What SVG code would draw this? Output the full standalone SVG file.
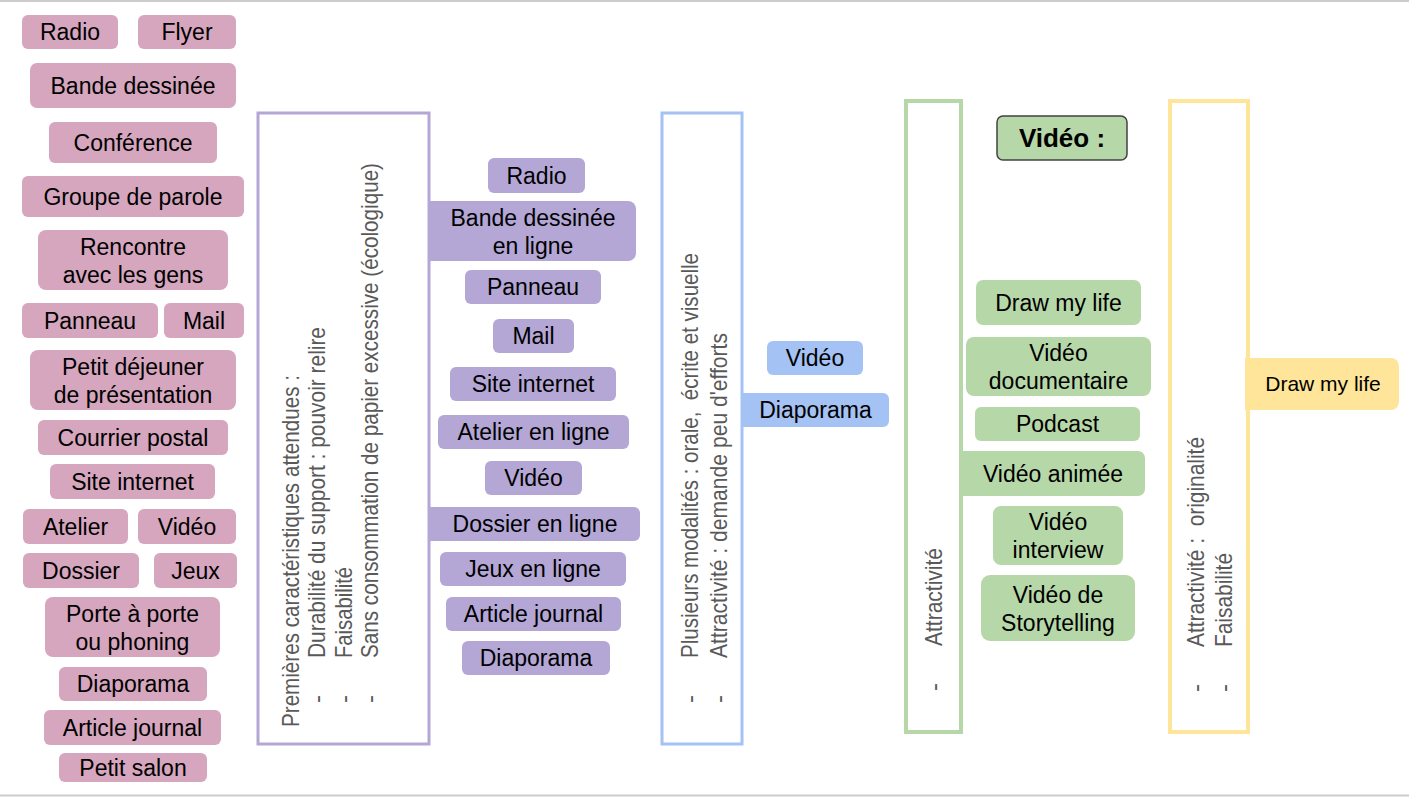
<svg xmlns="http://www.w3.org/2000/svg" width="1409" height="797" viewBox="0 0 1409 797">
<style>
  text { font-family: "Liberation Sans", Arial, sans-serif; }
  .lbl { font-size: 23px; fill: #000; text-anchor: middle; }
  .pink { fill: #d5a6bd; }
  .purple { fill: #b4a7d6; }
  .blue { fill: #a4c2f4; }
  .green { fill: #b6d7a8; }
  .yellow { fill: #ffe599; }
  .vt { font-size: 24px; fill: #595959; }
  .box { fill: #fff; }
</style>
<rect width="1409" height="797" fill="#fff"/>
<line x1="0" y1="1" x2="1409" y2="1" stroke="#cccccc" stroke-width="2"/>
<line x1="0" y1="795.5" x2="1409" y2="795.5" stroke="#cccccc" stroke-width="2"/>

<g id="connectors"></g>

<!-- Frames -->
<g id="frame-purple">
  <rect class="box" x="258" y="113" width="171" height="631" stroke="#b4a7d6" stroke-width="3"/>
  <text class="vt" transform="translate(299,727) rotate(-90)" textLength="352" lengthAdjust="spacingAndGlyphs">Premières caractéristiques attendues :</text>
  <text class="vt" transform="translate(325,703) rotate(-90)">-</text>
  <text class="vt" transform="translate(325,658) rotate(-90)" textLength="331" lengthAdjust="spacingAndGlyphs">Durabilité du support : pouvoir relire</text>
  <text class="vt" transform="translate(352,703) rotate(-90)">-</text>
  <text class="vt" transform="translate(352,658) rotate(-90)" textLength="91" lengthAdjust="spacingAndGlyphs">Faisabilité</text>
  <text class="vt" transform="translate(378,703) rotate(-90)">-</text>
  <text class="vt" transform="translate(378,658) rotate(-90)" textLength="495" lengthAdjust="spacingAndGlyphs">Sans consommation de papier excessive (écologique)</text>
</g>
<g id="frame-blue">
  <rect class="box" x="662" y="113" width="80" height="631" stroke="#a4c2f4" stroke-width="3"/>
  <text class="vt" transform="translate(698,703) rotate(-90)">-</text>
  <text class="vt" xml:space="preserve" transform="translate(698,658) rotate(-90)" textLength="405" lengthAdjust="spacingAndGlyphs">Plusieurs modalités : orale,  écrite et visuelle</text>
  <text class="vt" transform="translate(727,703) rotate(-90)">-</text>
  <text class="vt" transform="translate(727,658) rotate(-90)" textLength="325" lengthAdjust="spacingAndGlyphs">Attractivité : demande peu d'efforts</text>
</g>
<g id="frame-green">
  <rect class="box" x="906" y="101" width="55" height="631" stroke="#b6d7a8" stroke-width="4"/>
  <text class="vt" transform="translate(942,691) rotate(-90)">-</text>
  <text class="vt" transform="translate(942,646) rotate(-90)" textLength="98" lengthAdjust="spacingAndGlyphs">Attractivité</text>
</g>
<g id="frame-yellow">
  <rect class="box" x="1170" y="101" width="78" height="631" stroke="#ffe599" stroke-width="4"/>
  <text class="vt" transform="translate(1204,692) rotate(-90)">-</text>
  <text class="vt" xml:space="preserve" transform="translate(1204,647) rotate(-90)" textLength="210" lengthAdjust="spacingAndGlyphs">Attractivité :  originalité</text>
  <text class="vt" transform="translate(1232,692) rotate(-90)">-</text>
  <text class="vt" transform="translate(1232,647) rotate(-90)" textLength="94" lengthAdjust="spacingAndGlyphs">Faisabilité</text>
</g>

<!-- Pink column -->
<g id="p-radio"><rect class="pink" x="22" y="15" width="96" height="34" rx="6"/><text class="lbl" x="70" y="40">Radio</text></g>
<g id="p-flyer"><rect class="pink" x="138" y="15" width="98" height="34" rx="6"/><text class="lbl" x="187" y="40">Flyer</text></g>
<g id="p-bd"><rect class="pink" x="30" y="63" width="206" height="45" rx="7"/><text class="lbl" x="133" y="94">Bande dessinée</text></g>
<g id="p-conf"><rect class="pink" x="49" y="122" width="168" height="41" rx="6"/><text class="lbl" x="133" y="151">Conférence</text></g>
<g id="p-groupe"><rect class="pink" x="22" y="176" width="222" height="41" rx="6"/><text class="lbl" x="133" y="205">Groupe de parole</text></g>
<g id="p-rencontre"><rect class="pink" x="38" y="230" width="190" height="60" rx="8"/><text class="lbl" x="133" y="255">Rencontre</text><text class="lbl" x="133" y="283">avec les gens</text></g>
<g id="p-panneau"><rect class="pink" x="22" y="303" width="136" height="35" rx="6"/><text class="lbl" x="90" y="329">Panneau</text></g>
<g id="p-mail"><rect class="pink" x="164" y="303" width="80" height="35" rx="6"/><text class="lbl" x="204" y="329">Mail</text></g>
<g id="p-petitdej"><rect class="pink" x="30" y="350" width="206" height="60" rx="8"/><text class="lbl" x="133" y="375">Petit déjeuner</text><text class="lbl" x="133" y="403">de présentation</text></g>
<g id="p-courrier"><rect class="pink" x="38" y="420" width="190" height="35" rx="6"/><text class="lbl" x="133" y="446">Courrier postal</text></g>
<g id="p-site"><rect class="pink" x="50" y="464" width="165" height="35" rx="6"/><text class="lbl" x="132.5" y="490">Site internet</text></g>
<g id="p-atelier"><rect class="pink" x="23" y="509" width="105" height="35" rx="6"/><text class="lbl" x="75.5" y="535">Atelier</text></g>
<g id="p-video"><rect class="pink" x="138" y="509" width="98" height="35" rx="6"/><text class="lbl" x="187" y="535">Vidéo</text></g>
<g id="p-dossier"><rect class="pink" x="23" y="553" width="116" height="35" rx="6"/><text class="lbl" x="81" y="579">Dossier</text></g>
<g id="p-jeux"><rect class="pink" x="154" y="553" width="83" height="35" rx="6"/><text class="lbl" x="195.5" y="579">Jeux</text></g>
<g id="p-porte"><rect class="pink" x="45" y="597" width="175" height="60" rx="8"/><text class="lbl" x="132.5" y="622">Porte à porte</text><text class="lbl" x="132.5" y="650">ou phoning</text></g>
<g id="p-diaporama"><rect class="pink" x="59" y="667" width="148" height="34" rx="6"/><text class="lbl" x="133" y="692">Diaporama</text></g>
<g id="p-article"><rect class="pink" x="44" y="710" width="177" height="35" rx="6"/><text class="lbl" x="132.5" y="736">Article journal</text></g>
<g id="p-salon"><rect class="pink" x="59" y="753" width="148" height="29" rx="6"/><text class="lbl" x="133" y="776">Petit salon</text></g>

<!-- Purple column -->
<g id="m-radio"><rect class="purple" x="488" y="158" width="97" height="35" rx="6"/><text class="lbl" x="536.5" y="184">Radio</text></g>
<g id="m-bd"><path class="purple" d="M430,201 H628 A8,8 0 0 1 636,209 V253 A8,8 0 0 1 628,261 H430 Z"/><text class="lbl" x="533" y="226">Bande dessinée</text><text class="lbl" x="533" y="254">en ligne</text></g>
<g id="m-panneau"><rect class="purple" x="465" y="270" width="136" height="34" rx="6"/><text class="lbl" x="533" y="295">Panneau</text></g>
<g id="m-mail"><rect class="purple" x="493" y="319" width="81" height="34" rx="6"/><text class="lbl" x="533.5" y="344">Mail</text></g>
<g id="m-site"><rect class="purple" x="450" y="367" width="166" height="34" rx="6"/><text class="lbl" x="533" y="392">Site internet</text></g>
<g id="m-atelier"><rect class="purple" x="438" y="415" width="191" height="34" rx="6"/><text class="lbl" x="533.5" y="440">Atelier en ligne</text></g>
<g id="m-video"><rect class="purple" x="485" y="461" width="97" height="34" rx="6"/><text class="lbl" x="533.5" y="486">Vidéo</text></g>
<g id="m-dossier"><path class="purple" d="M430,507 H634 A6,6 0 0 1 640,513 V535 A6,6 0 0 1 634,541 H430 Z"/><text class="lbl" x="535" y="532">Dossier en ligne</text></g>
<g id="m-jeux"><rect class="purple" x="440" y="552" width="186" height="34" rx="6"/><text class="lbl" x="533" y="577">Jeux en ligne</text></g>
<g id="m-article"><rect class="purple" x="446" y="597" width="175" height="34" rx="6"/><text class="lbl" x="533.5" y="622">Article journal</text></g>
<g id="m-diaporama"><rect class="purple" x="462" y="641" width="148" height="34" rx="6"/><text class="lbl" x="536" y="666">Diaporama</text></g>

<!-- Blue -->
<g id="b-video"><rect class="blue" x="767" y="341" width="96" height="34" rx="6"/><text class="lbl" x="815" y="366">Vidéo</text></g>
<g id="b-diaporama"><path class="blue" d="M742,393 H883 A6,6 0 0 1 889,399 V421 A6,6 0 0 1 883,427 H742 Z"/><text class="lbl" x="815.5" y="418">Diaporama</text></g>

<!-- Green -->
<g id="g-header"><rect class="green" x="997" y="116" width="130" height="44" rx="6" stroke="#434343" stroke-width="1.5"/><text x="1062" y="147" font-size="26" font-weight="bold" text-anchor="middle" fill="#000">Vidéo :</text></g>
<g id="g-draw"><rect class="green" x="976" y="280" width="165" height="45" rx="7"/><text class="lbl" x="1058.5" y="311">Draw my life</text></g>
<g id="g-doc"><rect class="green" x="966" y="337" width="185" height="59" rx="8"/><text class="lbl" x="1058.5" y="361">Vidéo</text><text class="lbl" x="1058.5" y="389">documentaire</text></g>
<g id="g-podcast"><rect class="green" x="975" y="407" width="165" height="34" rx="6"/><text class="lbl" x="1057.5" y="432">Podcast</text></g>
<g id="g-anim"><path class="green" d="M961,451 H1138 A7,7 0 0 1 1145,458 V489 A7,7 0 0 1 1138,496 H961 Z"/><text class="lbl" x="1053" y="482">Vidéo animée</text></g>
<g id="g-interview"><rect class="green" x="993" y="506" width="130" height="59" rx="8"/><text class="lbl" x="1058" y="530">Vidéo</text><text class="lbl" x="1058" y="558">interview</text></g>
<g id="g-story"><rect class="green" x="981" y="575" width="154" height="66" rx="9"/><text class="lbl" x="1058" y="603">Vidéo de</text><text class="lbl" x="1058" y="631">Storytelling</text></g>

<!-- Yellow -->
<g id="y-draw"><path class="yellow" d="M1245,358 H1391 A8,8 0 0 1 1399,366 V402 A8,8 0 0 1 1391,410 H1245 Z"/><text class="lbl" x="1323" y="391" style="font-size:21px">Draw my life</text></g>
</svg>
